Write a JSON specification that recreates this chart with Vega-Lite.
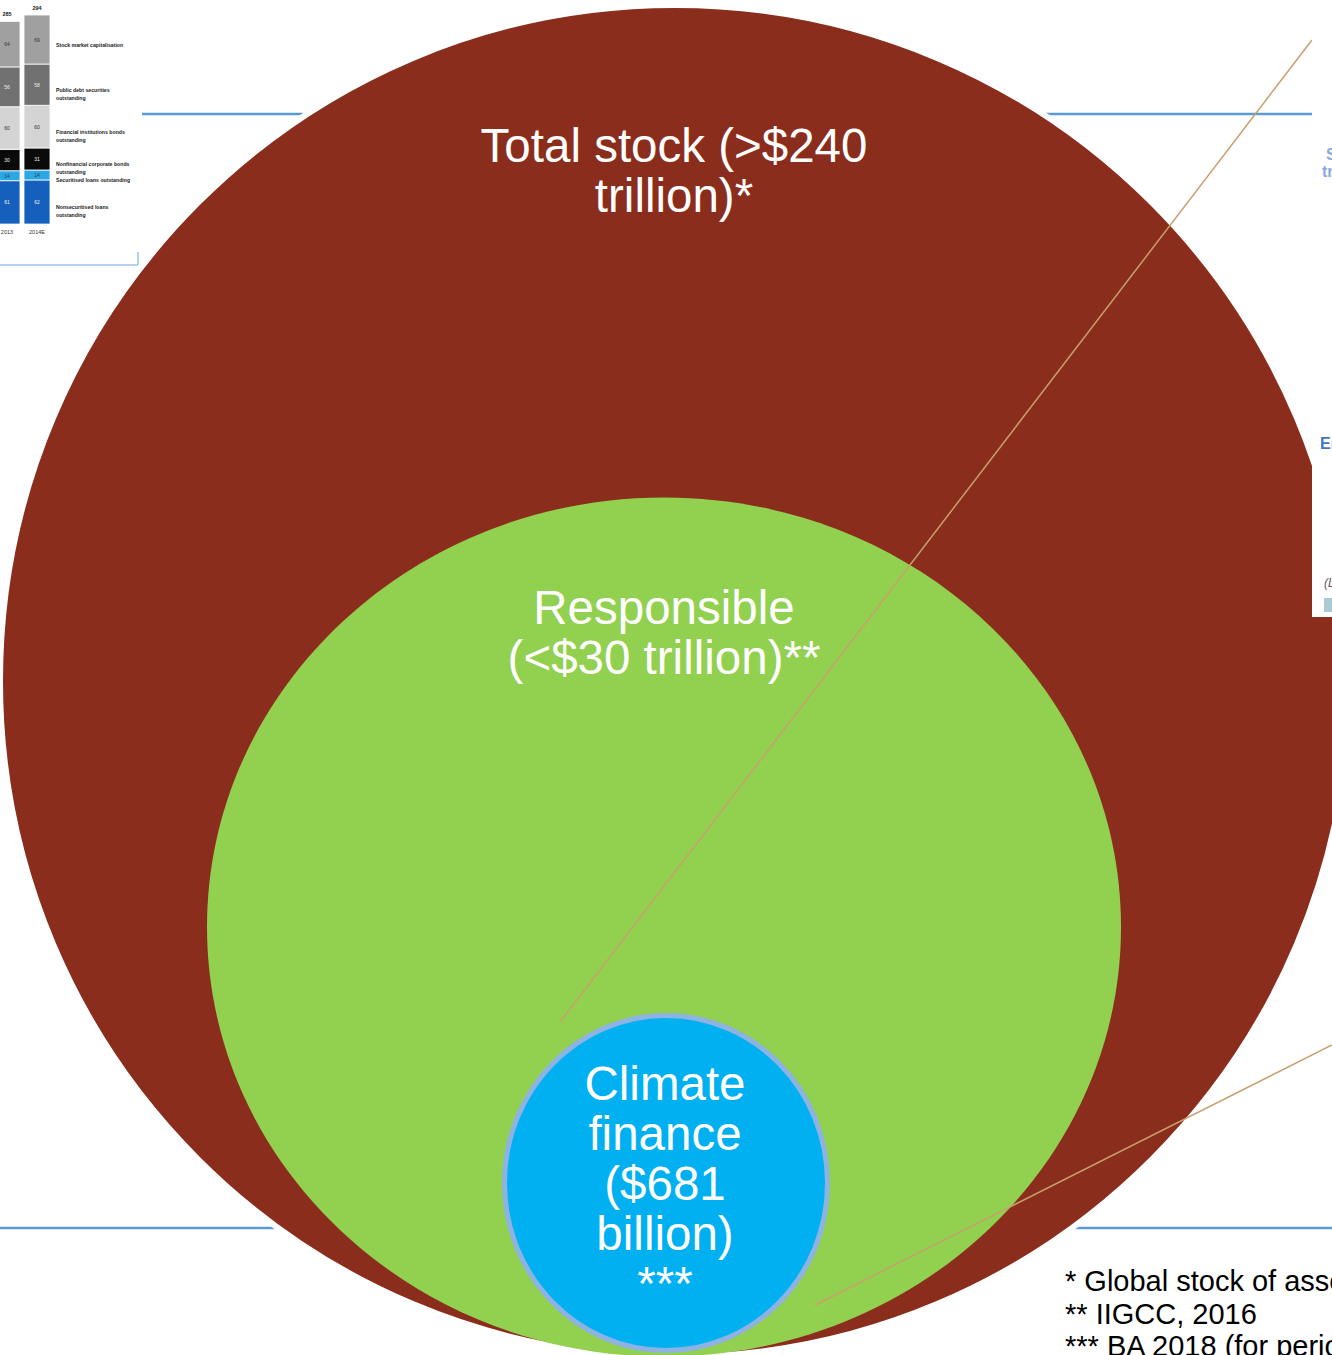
{
  "$schema": "https://vega.github.io/schema/vega-lite/v6.json",
  "width": 1332,
  "height": 1355,
  "padding": 0,
  "autosize": {"type": "none"},
  "background": "white",
  "config": {"view": {"stroke": null}},
  "layer": [
    {
      "data": {
        "values": [
          {"year": 2013, "yearLabel": "2013", "rank": 1, "cat": "Nonsecuritised loans\noutstanding", "value": 61},
          {"year": 2013, "yearLabel": "2013", "rank": 2, "cat": "Securitised loans outstanding", "value": 14},
          {"year": 2013, "yearLabel": "2013", "rank": 3, "cat": "Nonfinancial corporate bonds\noutstanding", "value": 30},
          {"year": 2013, "yearLabel": "2013", "rank": 4, "cat": "Financial institutions bonds\noutstanding", "value": 60},
          {"year": 2013, "yearLabel": "2013", "rank": 5, "cat": "Public debt securities\noutstanding", "value": 56},
          {"year": 2013, "yearLabel": "2013", "rank": 6, "cat": "Stock market capitalisation", "value": 64},
          {"year": 2014, "yearLabel": "2014E", "rank": 1, "cat": "Nonsecuritised loans\noutstanding", "value": 62},
          {"year": 2014, "yearLabel": "2014E", "rank": 2, "cat": "Securitised loans outstanding", "value": 14},
          {"year": 2014, "yearLabel": "2014E", "rank": 3, "cat": "Nonfinancial corporate bonds\noutstanding", "value": 31},
          {"year": 2014, "yearLabel": "2014E", "rank": 4, "cat": "Financial institutions bonds\noutstanding", "value": 60},
          {"year": 2014, "yearLabel": "2014E", "rank": 5, "cat": "Public debt securities\noutstanding", "value": 58},
          {"year": 2014, "yearLabel": "2014E", "rank": 6, "cat": "Stock market capitalisation", "value": 69}
        ]
      },
      "encoding": {
        "x": {"field": "year", "type": "quantitative", "scale": {"domain": [2012.7667, 2057.1667], "nice": false, "zero": false, "padding": 0}, "axis": null}
      },
      "layer": [
        {
          "data": {"values": [{"g": 50}, {"g": 100}, {"g": 150}, {"g": 200}, {"g": 250}, {"g": 300}]},
          "mark": {"type": "rule", "color": "#d9d9d9", "strokeWidth": 0.8},
          "encoding": {
            "x": {"datum": 2012.55, "type": "quantitative"},
            "x2": {"datum": 2014.45},
            "y": {"field": "g", "type": "quantitative", "scale": {"domain": [-1590.7, 315.1], "nice": false, "zero": false, "padding": 0}, "axis": null}
          }
        },
        {
          "mark": {"type": "bar", "width": 26, "stroke": "white", "strokeWidth": 0.8},
          "encoding": {
            "y": {"field": "value", "type": "quantitative", "stack": "zero", "scale": {"domain": [-1590.7, 315.1], "nice": false, "zero": false, "padding": 0}, "axis": null},
            "color": {
              "field": "cat", "type": "nominal", "legend": null,
              "scale": {
                "domain": ["Nonsecuritised loans\noutstanding", "Securitised loans outstanding", "Nonfinancial corporate bonds\noutstanding", "Financial institutions bonds\noutstanding", "Public debt securities\noutstanding", "Stock market capitalisation"],
                "range": ["#1560bd", "#2aa8e6", "#0a0a0a", "#d4d4d4", "#717171", "#a0a0a0"]
              }
            },
            "order": {"field": "rank", "type": "quantitative"}
          }
        },
        {
          "mark": {"type": "text", "font": "Liberation Sans", "fontSize": 5, "baseline": "middle"},
          "encoding": {
            "y": {"field": "value", "type": "quantitative", "stack": "zero", "bandPosition": 0.5, "scale": {"domain": [-1590.7, 315.1], "nice": false, "zero": false, "padding": 0}, "axis": null},
            "detail": {"field": "cat"},
            "order": {"field": "rank", "type": "quantitative"},
            "text": {"field": "value", "type": "quantitative"},
            "color": {"condition": {"test": "datum.rank == 1 || datum.rank == 3 || datum.rank == 5", "value": "#eeeeee"}, "value": "#333333"}
          }
        },
        {
          "transform": [{"filter": "datum.year == 2014"}],
          "mark": {"type": "text", "font": "Liberation Sans", "fontSize": 5.2, "fontWeight": "bold", "align": "left", "baseline": "middle", "dx": 19, "dy": 5, "lineBreak": "\n", "lineHeight": 8, "color": "#222222"},
          "encoding": {
            "y": {"field": "value", "type": "quantitative", "stack": "zero", "bandPosition": 0.5, "scale": {"domain": [-1590.7, 315.1], "nice": false, "zero": false, "padding": 0}, "axis": null},
            "detail": {"field": "cat"},
            "order": {"field": "rank", "type": "quantitative"},
            "text": {"field": "cat"}
          }
        },
        {
          "transform": [{"aggregate": [{"op": "sum", "field": "value", "as": "total"}], "groupby": ["year"]}],
          "mark": {"type": "text", "font": "Liberation Sans", "fontSize": 5.5, "fontWeight": "bold", "baseline": "alphabetic", "dy": -5, "color": "#222222"},
          "encoding": {
            "y": {"field": "total", "type": "quantitative", "scale": {"domain": [-1590.7, 315.1], "nice": false, "zero": false, "padding": 0}, "axis": null},
            "text": {"field": "total", "type": "quantitative"}
          }
        },
        {
          "transform": [{"aggregate": [{"op": "count", "as": "n"}], "groupby": ["year", "yearLabel"]}],
          "mark": {"type": "text", "font": "Liberation Sans", "fontSize": 5.5, "baseline": "alphabetic", "dy": 10, "color": "#333333"},
          "encoding": {
            "y": {"datum": 0, "type": "quantitative", "scale": {"domain": [-1590.7, 315.1], "nice": false, "zero": false, "padding": 0}, "axis": null},
            "text": {"field": "yearLabel"}
          }
        }
      ]
    },
    {
      "encoding": {
        "x": {"field": "x", "type": "quantitative", "scale": {"domain": [0, 1332], "nice": false, "zero": false, "padding": 0}, "axis": null},
        "y": {"field": "y", "type": "quantitative", "scale": {"domain": [0, 1355], "nice": false, "zero": false, "padding": 0, "reverse": true}, "axis": null}
      },
      "layer": [
        {
          "data": {"values": [
            {"x": 142, "y": 114, "x2": 303, "y2": 114},
            {"x": 1045, "y": 114, "x2": 1312, "y2": 114},
            {"x": 0, "y": 1228, "x2": 276, "y2": 1228},
            {"x": 1075, "y": 1228, "x2": 1332, "y2": 1228}
          ]},
          "mark": {"type": "rule", "color": "#5B9BD5", "strokeWidth": 2.5},
          "encoding": {"x2": {"field": "x2"}, "y2": {"field": "y2"}}
        },
        {
          "data": {"values": [
            {"x": 0, "y": 265, "x2": 138, "y2": 265},
            {"x": 138, "y": 252, "x2": 138, "y2": 265}
          ]},
          "mark": {"type": "rule", "color": "#9DC3E6", "strokeWidth": 1.5},
          "encoding": {"x2": {"field": "x2"}, "y2": {"field": "y2"}}
        },
        {
          "data": {"values": [{"x": 675, "y": 681, "name": "Total stock"}]},
          "mark": {
            "type": "point", "filled": true, "opacity": 1, "size": 1822500,
            "shape": "M1,0C1,0.5531 0.5523,1.0015 0,1.0015C-0.5523,1.0015 -1,0.5531 -1,0C-1,-0.5531 -0.5523,-1.0015 0,-1.0015C0.5523,-1.0015 1,-0.5531 1,0Z",
            "fill": "#8B2D1C", "stroke": "white", "strokeWidth": 6, "strokeOpacity": 1
          }
        },
        {
          "data": {"values": [{"x": 664, "y": 927, "name": "Responsible"}]},
          "mark": {
            "type": "point", "filled": true, "opacity": 1, "size": 835396,
            "shape": "M1,0C1,0.5191 0.5523,0.9400 0,0.9400C-0.5523,0.9400 -1,0.5191 -1,0C-1,-0.5191 -0.5523,-0.9400 0,-0.9400C0.5523,-0.9400 1,-0.5191 1,0Z",
            "fill": "#92D050", "strokeWidth": 0
          }
        },
        {
          "data": {"values": [
            {"x": 1312, "y": 40, "x2": 560, "y2": 1022},
            {"x": 1332, "y": 1045, "x2": 815, "y2": 1305}
          ]},
          "mark": {"type": "rule", "color": "#C8A06E", "strokeWidth": 1.5},
          "encoding": {"x2": {"field": "x2"}, "y2": {"field": "y2"}}
        },
        {
          "data": {"values": [{"x": 666, "y": 1183, "name": "Climate finance"}]},
          "mark": {
            "type": "point", "filled": true, "opacity": 1, "size": 104329,
            "shape": "M1,0C1,0.5728 0.5523,1.0372 0,1.0372C-0.5523,1.0372 -1,0.5728 -1,0C-1,-0.5728 -0.5523,-1.0372 0,-1.0372C0.5523,-1.0372 1,-0.5728 1,0Z",
            "fill": "#00B0F0", "stroke": "#8DB3E2", "strokeWidth": 5, "strokeOpacity": 1
          }
        },
        {
          "data": {"values": [{"x": 1312, "y": 0, "x2": 1340, "y2": 617}]},
          "mark": {"type": "rect", "fill": "white"},
          "encoding": {"x2": {"field": "x2"}, "y2": {"field": "y2"}}
        },
        {
          "data": {"values": [{"x": 1324, "y": 598, "x2": 1340, "y2": 612}]},
          "mark": {"type": "rect", "fill": "#A9CBD1"},
          "encoding": {"x2": {"field": "x2"}, "y2": {"field": "y2"}}
        },
        {
          "data": {"values": [{"x": 1326, "y": 160, "t": "S"}, {"x": 1322, "y": 177, "t": "tr"}]},
          "mark": {"type": "text", "font": "Liberation Sans", "fontSize": 16, "fontWeight": "bold", "align": "left", "baseline": "alphabetic", "color": "#8EA9DB"},
          "encoding": {"text": {"field": "t"}}
        },
        {
          "data": {"values": [{"x": 1320, "y": 449, "t": "En"}]},
          "mark": {"type": "text", "font": "Liberation Sans", "fontSize": 16, "fontWeight": "bold", "align": "left", "baseline": "alphabetic", "color": "#4472C4"},
          "encoding": {"text": {"field": "t"}}
        },
        {
          "data": {"values": [{"x": 1324, "y": 587, "t": "(L"}]},
          "mark": {"type": "text", "font": "Liberation Sans", "fontSize": 12, "fontStyle": "italic", "align": "left", "baseline": "alphabetic", "color": "#595959"},
          "encoding": {"text": {"field": "t"}}
        },
        {
          "data": {"values": [
            {"x": 674, "y": 162, "t": "Total stock (>$240\ntrillion)*"},
            {"x": 664, "y": 624, "t": "Responsible\n(<$30 trillion)**"},
            {"x": 665, "y": 1100, "t": "Climate\nfinance\n($681\nbillion)\n***"}
          ]},
          "mark": {"type": "text", "font": "Liberation Sans", "fontSize": 47.5, "lineHeight": 50, "lineBreak": "\n", "align": "center", "baseline": "alphabetic", "color": "white"},
          "encoding": {"text": {"field": "t"}}
        },
        {
          "data": {"values": [
            {"x": 1065, "y": 1291, "t": "* Global stock of assets\n** IIGCC, 2016\n*** BA 2018 (for period"}
          ]},
          "mark": {"type": "text", "font": "Liberation Sans", "fontSize": 29, "lineHeight": 32.5, "lineBreak": "\n", "align": "left", "baseline": "alphabetic", "color": "black"},
          "encoding": {"text": {"field": "t"}}
        }
      ]
    }
  ],
  "resolve": {"scale": {"x": "independent", "y": "independent", "color": "independent"}}
}
